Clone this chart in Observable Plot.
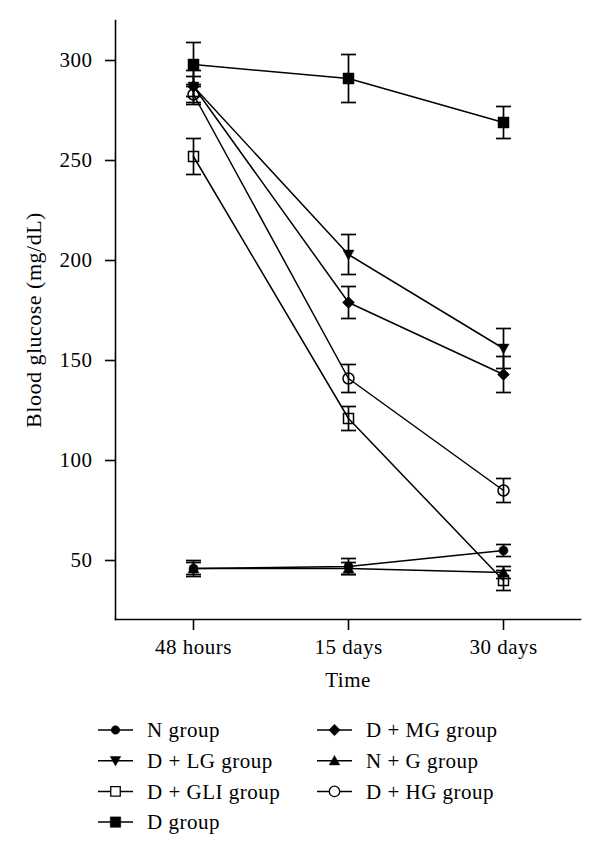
<!DOCTYPE html>
<html><head><meta charset="utf-8">
<script src="https://cdn.jsdelivr.net/npm/d3@7"></script>
<script src="https://cdn.jsdelivr.net/npm/@observablehq/plot@0.6"></script>
<style>
body{margin:0;background:#fff;}
#chart{width:600px;height:858px;position:relative;font-family:"Liberation Serif","DejaVu Serif",serif;}
#chart svg{display:block;}
</style></head><body><div id="chart"></div>
<script>
// ---- data ----
const times = ["48 hours", "15 days", "30 days"];
const groups = ["N group", "D + LG group", "D + GLI group", "D group", "D + MG group", "N + G group", "D + HG group"];
const nGroup = [46, 47, 55];
const nGroupErr = [4, 4, 3];
const dLG = [287, 203, 156];
const dLGErr = [5, 10, 10];
const dGLI = [252, 121, 40];
const dGLIErr = [9, 6, 5];
const dGroup = [298, 291, 269];
const dGroupErr = [11, 12, 8];
const dMG = [287, 179, 143];
const dMGErr = [8, 8, 9];
const nG = [46, 46, 44];
const nGErr = [3, 3, 3];
const dHG = [283, 141, 85];
const dHGErr = [5, 7, 6];
const yTicks = [50, 100, 150, 200, 250, 300];
const yDomain = [20.5, 320];

const seriesMeans = [nGroup, dLG, dGLI, dGroup, dMG, nG, dHG];
const seriesErrs = [nGroupErr, dLGErr, dGLIErr, dGroupErr, dMGErr, nGErr, dHGErr];

const rows = groups.flatMap((g, gi) => times.map((t, ti) => ({
  group: g, time: t, mean: seriesMeans[gi][ti], err: seriesErrs[gi][ti]
})));

// ---- symbols ----
function sym(kind, s) {
  return {draw(ctx) {
    const h = s / 2;
    switch (kind) {
      case "circle": ctx.moveTo(h, 0); ctx.arc(0, 0, h, 0, 2 * Math.PI); break;
      case "square": ctx.rect(-h, -h, s, s); break;
      case "diamond": ctx.moveTo(0, -h); ctx.lineTo(h, 0); ctx.lineTo(0, h); ctx.lineTo(-h, 0); ctx.closePath(); break;
      case "triup": ctx.moveTo(0, -h); ctx.lineTo(h, h * 0.8); ctx.lineTo(-h, h * 0.8); ctx.closePath(); break;
      case "tridown": ctx.moveTo(0, h); ctx.lineTo(h, -h * 0.8); ctx.lineTo(-h, -h * 0.8); ctx.closePath(); break;
      case "cap": ctx.moveTo(-h, 0); ctx.lineTo(h, 0); break;
    }
  }};
}
const styleOf = {
  "N group": {kind: "circle", size: 9, open: false},
  "D + LG group": {kind: "tridown", size: 11, open: false},
  "D + GLI group": {kind: "square", size: 10, open: true},
  "D group": {kind: "square", size: 11, open: false},
  "D + MG group": {kind: "diamond", size: 12, open: false},
  "N + G group": {kind: "triup", size: 11, open: false},
  "D + HG group": {kind: "circle", size: 11, open: true}
};
const capSym = sym("cap", 15);

const font = '"Liberation Serif","DejaVu Serif",serif';

const chart = Plot.plot({
  width: 600,
  height: 705,
  marginTop: 20,
  marginLeft: 115,
  marginRight: 20,
  marginBottom: 86,
  style: {fontFamily: font, fontSize: "21px", color: "black", background: "white", letterSpacing: "0.5px"},
  x: {type: "point", domain: times, padding: 0.5, axis: null},
  y: {domain: yDomain, axis: null},
  marks: [
    Plot.frame({anchor: "left", stroke: "black", strokeWidth: 1.6}),
    Plot.frame({anchor: "bottom", stroke: "black", strokeWidth: 1.6}),
    Plot.axisY(yTicks, {tickSize: 10, tickPadding: 13, strokeWidth: 1.6, label: null, fontSize: 21}),
    Plot.axisX(times, {tickSize: 11, tickPadding: 9, strokeWidth: 1.6, label: null, fontSize: 21}),
    Plot.text(["Time"], {frameAnchor: "bottom", dy: 67, fontSize: 21}),
    Plot.text(["Blood glucose (mg/dL)"], {frameAnchor: "left", textAnchor: "middle", rotate: -90, dx: -82, fontSize: 22}),
    Plot.line(rows, {x: "time", y: "mean", z: "group", stroke: "black", strokeWidth: 1.5}),
    Plot.ruleX(rows, {x: "time", y1: d => d.mean - d.err, y2: d => d.mean + d.err, stroke: "black", strokeWidth: 1.7}),
    Plot.dot(rows, {x: "time", y: d => d.mean + d.err, symbol: capSym, stroke: "black", strokeWidth: 1.7}),
    Plot.dot(rows, {x: "time", y: d => d.mean - d.err, symbol: capSym, stroke: "black", strokeWidth: 1.7}),
    ...groups.map(g => {
      const st = styleOf[g];
      return Plot.dot(rows.filter(d => d.group === g), {
        x: "time", y: "mean", symbol: sym(st.kind, st.size),
        fill: st.open ? "none" : "black", stroke: "black", strokeWidth: st.open ? 1.5 : 0.5
      });
    })
  ]
});
document.getElementById("chart").appendChild(chart);

// ---- legend ----
const legendCols = [groups.slice(0, 4), groups.slice(4)];
const colX = [98, 317];
const rowY0 = 25, rowStep = 30.7;
const leg = d3.select("#chart").append("svg")
  .attr("width", 600).attr("height", 153)
  .style("font-family", font).style("font-size", "21px").style("letter-spacing", "0.5px");
legendCols.forEach((col, ci) => {
  col.forEach((g, ri) => {
    const st = styleOf[g];
    const y = rowY0 + ri * rowStep;
    const x0 = colX[ci];
    const gEl = leg.append("g").attr("transform", `translate(${x0},${y})`);
    gEl.append("line").attr("x1", 0).attr("x2", 35).attr("y1", 0).attr("y2", 0)
      .attr("stroke", "black").attr("stroke-width", 1.5);
    gEl.append("path").attr("transform", "translate(17.5,0)")
      .attr("d", d3.symbol(sym(st.kind, st.size * 0.95))())
      .attr("fill", st.open ? "white" : "black").attr("stroke", "black")
      .attr("stroke-width", st.open ? 1.3 : 0.5);
    gEl.append("text").attr("x", 49).attr("y", 0).attr("dy", "0.35em").text(g);
  });
});
</script></body></html>
